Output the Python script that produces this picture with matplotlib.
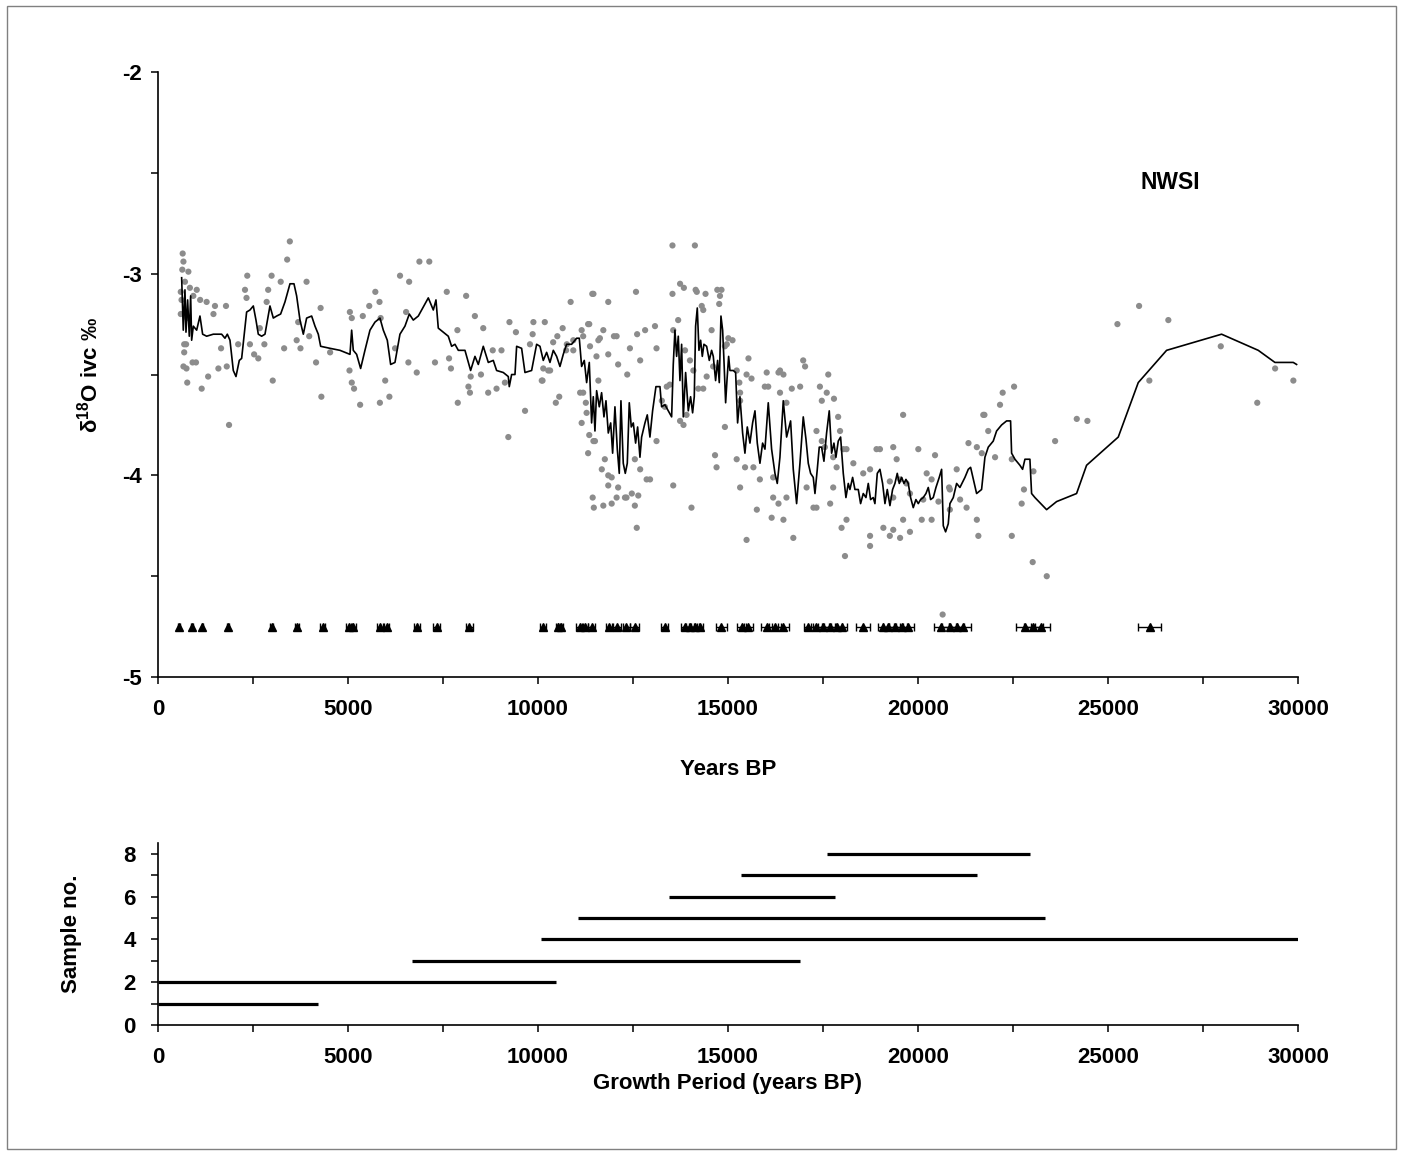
import numpy as np
import matplotlib.pyplot as plt
from matplotlib.ticker import MultipleLocator
from matplotlib.patches import Rectangle

plt.rcParams['font.family'] = ['Liberation Sans', 'DejaVu Sans']
plt.rcParams['font.weight'] = 'bold'
plt.rcParams['axes.labelweight'] = 'bold'
plt.rcParams['axes.unicode_minus'] = False
plt.rcParams['mathtext.fontset'] = 'custom'
plt.rcParams['mathtext.rm'] = 'Liberation Sans'
plt.rcParams['mathtext.bf'] = 'Liberation Sans:bold'

# smoothed d18O record (years BP, permil)
line_x = [623, 666, 710, 737, 780, 824, 860, 886, 930, 1018, 1105, 1175, 1281, 1456, 1544, 1675,
          1763, 1825, 1895, 1982, 2053, 2140, 2202, 2333, 2421, 2509, 2579, 2640, 2728, 2816, 2947,
          3035, 3123, 3228, 3342, 3474, 3579, 3649, 3737, 3825, 3912, 4044, 4132, 4219, 4281, 4526,
          4789, 5053, 5097, 5140, 5228, 5333, 5447, 5579, 5711, 5842, 5930, 6035, 6123, 6237, 6368,
          6500, 6614, 6719, 6851, 7114, 7246, 7316, 7377, 7509, 7640, 7728, 7816, 7904, 8079, 8228,
          8342, 8430, 8561, 8693, 8824, 8912, 9088, 9219, 9245, 9307, 9395, 9439, 9570, 9658, 9833,
          9965, 10053, 10140, 10228, 10316, 10404, 10491, 10579, 10666, 10754, 10886, 11018, 11088,
          11149, 11219, 11281, 11351, 11412, 11456, 11500, 11544, 11614, 11675, 11737, 11790, 11851,
          11914, 11965, 12026, 12088, 12140, 12184, 12245, 12298, 12351, 12403, 12456, 12509, 12570,
          12623, 12684, 12728, 12816, 12877, 12947, 13017, 13105, 13211, 13254, 13342, 13430, 13518,
          13561, 13605, 13649, 13693, 13737, 13781, 13825, 13886, 13956, 14017, 14070, 14114, 14149,
          14193, 14237, 14281, 14325, 14368, 14439, 14509, 14570, 14614, 14675, 14728, 14772, 14816,
          14860, 14895, 14939, 14974, 15018, 15053, 15140, 15202, 15254, 15316, 15386, 15447, 15509,
          15579, 15649, 15711, 15772, 15842, 15912, 15974, 16061, 16149, 16237, 16298, 16368, 16456,
          16544, 16649, 16719, 16807, 16895, 16982, 17053, 17114, 17175, 17245, 17290, 17351, 17403,
          17465, 17526, 17596, 17666, 17728, 17789, 17842, 17903, 17965, 18035, 18105, 18167, 18210,
          18281, 18342, 18430, 18491, 18561, 18632, 18693, 18754, 18824, 18868, 18930, 19000, 19070,
          19132, 19193, 19263, 19333, 19395, 19456, 19509, 19570, 19632, 19684, 19745, 19807, 19877,
          19947, 20009, 20070, 20140, 20211, 20272, 20333, 20403, 20474, 20561, 20623, 20667, 20728,
          20798, 20842, 20930, 21018, 21105, 21237, 21325, 21386, 21544, 21675, 21763, 21851, 21982,
          22070, 22202, 22333, 22438, 22465, 22553, 22684, 22754, 22816, 22947, 22991, 23079, 23386,
          23649, 24175, 24438, 25272, 25798, 26544, 27991, 28956, 29395, 29877, 29965]
line_y = [-3.02, -3.28, -3.08, -3.29, -3.13, -3.31, -3.11, -3.33, -3.26, -3.28, -3.21, -3.30, -3.31,
          -3.30, -3.30, -3.30, -3.32, -3.30, -3.33, -3.48, -3.51, -3.43, -3.42, -3.19, -3.18, -3.16,
          -3.23, -3.30, -3.31, -3.30, -3.16, -3.22, -3.21, -3.20, -3.14, -3.05, -3.05, -3.11, -3.23,
          -3.30, -3.22, -3.21, -3.26, -3.30, -3.36, -3.37, -3.38, -3.40, -3.28, -3.38, -3.40, -3.47,
          -3.38, -3.28, -3.24, -3.22, -3.28, -3.33, -3.45, -3.44, -3.30, -3.26, -3.20, -3.23, -3.21,
          -3.12, -3.18, -3.13, -3.27, -3.29, -3.31, -3.36, -3.35, -3.38, -3.38, -3.48, -3.41, -3.45,
          -3.36, -3.44, -3.43, -3.48, -3.49, -3.51, -3.56, -3.50, -3.50, -3.36, -3.37, -3.49, -3.48,
          -3.35, -3.36, -3.43, -3.39, -3.44, -3.38, -3.41, -3.46, -3.40, -3.35, -3.35, -3.32, -3.32,
          -3.46, -3.43, -3.54, -3.44, -3.74, -3.61, -3.78, -3.58, -3.66, -3.59, -3.71, -3.63, -3.79,
          -3.74, -3.89, -3.66, -3.87, -3.99, -3.63, -3.94, -3.99, -3.94, -3.64, -3.76, -3.74, -3.84,
          -3.76, -3.91, -3.81, -3.74, -3.70, -3.81, -3.68, -3.56, -3.56, -3.66, -3.65, -3.68, -3.71,
          -3.45, -3.28, -3.41, -3.31, -3.53, -3.35, -3.71, -3.49, -3.68, -3.61, -3.69, -3.61, -3.26,
          -3.17, -3.38, -3.33, -3.41, -3.35, -3.36, -3.43, -3.38, -3.41, -3.53, -3.43, -3.54, -3.21,
          -3.28, -3.43, -3.64, -3.53, -3.41, -3.48, -3.48, -3.49, -3.74, -3.61, -3.79, -3.89, -3.76,
          -3.84, -3.74, -3.68, -3.84, -3.94, -3.84, -3.87, -3.64, -3.87, -3.99, -4.04, -3.91, -3.63,
          -3.81, -3.73, -3.97, -4.14, -3.94, -3.71, -3.82, -3.94, -3.99, -4.01, -4.09, -3.97, -3.86,
          -3.86, -3.93, -3.79, -3.68, -3.89, -3.84, -3.91, -3.83, -3.81, -3.99, -4.11, -4.04, -4.07,
          -4.01, -4.07, -4.07, -4.14, -4.09, -4.11, -4.04, -4.12, -4.11, -4.14, -3.99, -3.97, -4.04,
          -4.14, -4.07, -4.15, -4.07, -4.04, -3.99, -4.04, -4.01, -4.04, -4.02, -4.04, -4.11, -4.16,
          -4.12, -4.14, -4.12, -4.11, -4.09, -4.06, -4.12, -4.11, -4.06, -4.01, -3.97, -4.25, -4.28,
          -4.24, -4.14, -4.11, -4.04, -4.06, -4.01, -3.97, -3.96, -4.09, -4.07, -3.91, -3.86, -3.83,
          -3.78, -3.75, -3.73, -3.73, -3.89, -3.92, -3.95, -3.97, -3.92, -3.92, -4.09, -4.11, -4.17,
          -4.13, -4.09, -3.95, -3.81, -3.54, -3.38, -3.30, -3.38, -3.44, -3.44, -3.45]

# individual measurements
pts_x = [650, 670, 640, 800, 710, 840, 1020, 600, 620, 930, 1110, 1280, 1500, 1790, 600, 1460, 770,
         690, 740, 690, 670, 750, 910, 1000, 770, 1320, 1150, 1590, 1660, 1810, 1870, 2110, 2350,
         2290, 2330, 2420, 2530, 2640, 2680, 2800, 2990, 2900, 2860, 3020, 3230, 3320, 3400, 3470,
         3650, 3690, 3750, 3910, 3980, 4160, 4280, 4300, 4530, 5050, 5100, 5390, 5040, 5100, 5160,
         5320, 5560, 5720, 5830, 5860, 5980, 5840, 6090, 6240, 6370, 6610, 6530, 6590, 6810, 6880,
         7140, 7290, 7600, 7660, 7710, 7880, 7890, 8110, 8170, 8210, 8230, 8340, 8560, 8500, 8690,
         8810, 8910, 9040, 9130, 9250, 9420, 9220, 9660, 9790, 9880, 9860, 10180, 10120, 10270,
         10470, 10560, 10510, 10650, 10860, 10740, 10930, 11150, 11320, 11460, 11590, 11190, 11260,
         11280, 11150, 11350, 11500, 11320,
         13540, 14130, 11430, 11850, 12580, 13540, 13740, 13840, 14150, 14180, 14410, 14720, 14830,
         14790, 14770, 14310, 14350, 11350, 10930, 11190, 11630, 11720, 12070, 12000, 12420, 12610,
         12820, 13080, 13120, 12690, 12350, 12110, 11850, 11540, 11370, 10760, 10400, 10140, 10320,
         10100, 11110, 11590, 11460, 11760, 11680, 11850, 11940, 12110, 11850, 12070, 12290, 12330,
         12470, 12640, 11440, 11470, 11720, 11940, 12550, 12600, 12690, 12860, 12950, 13120, 12550,
         13470, 13390, 13340, 13260, 13560, 14040, 13830, 13910, 13740, 13690, 13560, 13870, 14000,
         14090, 14220, 14350, 14440, 14610, 14920, 15010, 15120, 14970, 14570, 15540, 15490, 15620,
         15230, 15300, 15320, 15320, 14920, 14660, 14700, 15230, 15450, 15670, 15840, 16190, 15320,
         15760, 15490, 15970, 16060, 16370, 16540, 16680, 16900, 16370, 16330, 16460, 16980, 17030,
         16020, 17420, 17640, 17470, 17600, 17790, 17900, 17330, 17470, 17550, 17770, 17860, 17770,
         17690, 17950, 18040, 18120, 18300, 18560, 18740, 18910, 19000, 19350, 19610, 19440, 19260,
         19350, 19530, 19700, 19790, 20010, 20450, 20230, 20360, 20140, 20540, 20840, 21020, 21330,
         21550, 21720, 21850, 21550, 21590, 21280, 20840, 20360, 20100, 19610, 19350, 19260, 19530,
         19790, 19090, 18740, 18740, 18120, 17990, 18080, 17330, 17070, 16540, 16330, 16150, 16190,
         16720, 16460, 17250,
         21750, 22160, 22230, 22530, 22030, 22470, 22790, 22730, 23040, 22470, 23020, 23390, 23610,
         24180, 24460, 25250, 25820, 26590, 26090, 27970, 28930, 29400, 29880, 21680, 20820, 21110,
         20650]
pts_y = [-2.90, -2.94, -2.98, -2.99, -3.04, -3.07, -3.08, -3.09, -3.13, -3.11, -3.13, -3.14, -3.16,
         -3.16, -3.20, -3.20, -3.22, -3.35, -3.35, -3.39, -3.46, -3.47, -3.44, -3.44, -3.54, -3.51,
         -3.57, -3.47, -3.37, -3.46, -3.75, -3.35, -3.01, -3.08, -3.12, -3.35, -3.40, -3.42, -3.27,
         -3.35, -3.01, -3.08, -3.14, -3.53, -3.04, -3.37, -2.93, -2.84, -3.33, -3.24, -3.37, -3.04,
         -3.31, -3.44, -3.17, -3.61, -3.39, -3.19, -3.22, -3.21, -3.48, -3.54, -3.57, -3.65, -3.16,
         -3.09, -3.14, -3.22, -3.53, -3.64, -3.61, -3.37, -3.01, -3.04, -3.19, -3.44, -3.49, -2.94,
         -2.94, -3.44, -3.09, -3.42, -3.47, -3.28, -3.64, -3.11, -3.56, -3.59, -3.51, -3.21, -3.27,
         -3.50, -3.59, -3.38, -3.57, -3.38, -3.54, -3.24, -3.29, -3.81, -3.68, -3.35, -3.24, -3.30,
         -3.24, -3.53, -3.48, -3.64, -3.61, -3.31, -3.27, -3.14, -3.38, -3.38, -3.28, -3.25, -3.10,
         -3.33, -3.59, -3.64, -3.69, -3.74, -3.80, -3.83, -3.89,
         -2.86, -2.86, -3.10, -3.14, -3.09, -3.10, -3.05, -3.07, -3.08, -3.09, -3.10, -3.08, -3.08,
         -3.11, -3.15, -3.16, -3.18, -3.25, -3.33, -3.31, -3.32, -3.28, -3.31, -3.31, -3.37, -3.30,
         -3.28, -3.26, -3.37, -3.43, -3.50, -3.45, -3.40, -3.41, -3.36, -3.35, -3.34, -3.47, -3.48,
         -3.53, -3.59, -3.53, -3.83, -3.92, -3.97, -4.00, -4.01, -4.06, -4.05, -4.11, -4.11, -4.11,
         -4.09, -4.10, -4.11, -4.16, -4.15, -4.14, -4.15, -4.26, -3.97, -4.02, -4.02, -3.83, -3.92,
         -3.55, -3.56, -3.66, -3.63, -4.05, -4.16, -3.75, -3.70, -3.73, -3.23, -3.28, -3.38, -3.43,
         -3.48, -3.57, -3.57, -3.51, -3.46, -3.36, -3.32, -3.33, -3.35, -3.28, -3.42, -3.50, -3.52,
         -3.48, -3.54, -3.59, -3.63, -3.76, -3.90, -3.96, -3.92, -3.96, -3.96, -4.02, -4.01, -4.06,
         -4.17, -4.32, -3.56, -3.56, -3.59, -3.64, -3.57, -3.56, -3.48, -3.49, -3.50, -3.43, -3.46,
         -3.49, -3.56, -3.50, -3.63, -3.59, -3.62, -3.71, -3.78, -3.83, -3.86, -3.91, -3.96, -4.06,
         -4.14, -3.78, -3.87, -3.87, -3.94, -3.99, -3.97, -3.87, -3.87, -3.86, -3.70, -3.92, -4.03,
         -4.11, -4.02, -4.04, -4.09, -3.87, -3.90, -3.99, -4.02, -4.12, -4.13, -4.07, -3.97, -3.84,
         -3.86, -3.70, -3.78, -4.22, -4.30, -4.16, -4.17, -4.22, -4.22, -4.22, -4.27, -4.30, -4.31,
         -4.28, -4.26, -4.30, -4.35, -4.22, -4.26, -4.40, -4.16, -4.06, -4.11, -4.14, -4.21, -4.11,
         -4.31, -4.22, -4.16,
         -3.70, -3.65, -3.59, -3.56, -3.91, -3.92, -4.07, -4.14, -3.98, -4.30, -4.43, -4.50, -3.83,
         -3.72, -3.73, -3.25, -3.16, -3.23, -3.53, -3.36, -3.64, -3.47, -3.53, -3.89, -4.06, -4.12,
         -4.69]

# U-Th ages with 2-sigma errors
age_x = [560, 900, 1170, 1850, 2990, 3650, 4330, 5030, 5140, 5840, 6020, 6810, 7330, 8190,
         10140, 10530, 10600, 11100, 11240, 11410, 11880, 12070, 12330, 12550, 13340, 13870, 14000,
         14130, 14260, 14830, 15360, 15530, 16020, 16240, 16460, 17110, 17330, 17510, 17680, 17860,
         17990, 18560, 19090, 19220, 19390, 19570, 19750, 20620, 20840, 21020, 21190, 22820, 23030,
         23230, 26100]
age_err = [20, 20, 20, 30, 40, 50, 60, 70, 70, 70, 70, 80, 80, 90,
           80, 60, 60, 90, 90, 100, 100, 120, 100, 120, 90, 100, 100,
           100, 80, 150, 120, 120, 150, 150, 150, 120, 150, 150, 150, 150,
           150, 180, 150, 150, 150, 150, 150, 200, 200, 200, 200, 250, 250,
           250, 300]
age_level = -4.75

# growth periods of the samples
sample_no = [1, 2, 3, 4, 5, 6, 7, 8]
grow_start = [0, 0, 6680, 10080, 11050, 13450, 15340, 17600]
grow_end = [4210, 10470, 16890, 30000, 23340, 17815, 21550, 22950]

fig = plt.figure(figsize=(14.03, 11.54), dpi=100)
fig.patches.append(Rectangle((0.005, 0.004), 0.99, 0.991, transform=fig.transFigure,
                             fill=False, edgecolor='#808080', linewidth=1))

ax = fig.add_axes([0.1126, 0.4133, 0.8125, 0.5243])
ax.scatter(pts_x, pts_y, s=20, color='#8c8c8c', edgecolors='none', zorder=2)
ax.plot(line_x, line_y, color='black', linewidth=1.2, zorder=3)
ax.errorbar(age_x, [age_level] * len(age_x), xerr=age_err, fmt='^', color='black',
            markersize=5.5, elinewidth=1, capsize=3, capthick=1, zorder=4)
ax.text(26630, -2.55, 'NWSI', fontsize=16.5, ha='center', va='center')

ax.set_xlim(0, 30000)
ax.set_ylim(-5, -2)
ax.xaxis.set_major_locator(MultipleLocator(5000))
ax.xaxis.set_minor_locator(MultipleLocator(2500))
ax.yaxis.set_major_locator(MultipleLocator(1))
ax.yaxis.set_minor_locator(MultipleLocator(0.5))
ax.set_yticks([-5, -4, -3, -2])
ax.set_yticklabels(['-5', '-4', '-3', '-2'])
ax.set_xlabel('Years BP', fontsize=16)
ax.xaxis.set_label_coords(0.5, -0.136)
ax.set_ylabel(r'δ$^{18}$O ivc ‰', fontsize=16)
ax.yaxis.set_label_coords(-0.049, 0.5)
ax.tick_params(axis='y', pad=6.5)

ax2 = fig.add_axes([0.1126, 0.1118, 0.8125, 0.1577])
ax2.hlines(sample_no, grow_start, grow_end, color='black', linewidth=2.3)
ax2.set_xlim(0, 30000)
ax2.set_ylim(0, 8.5)
ax2.xaxis.set_major_locator(MultipleLocator(5000))
ax2.xaxis.set_minor_locator(MultipleLocator(2500))
ax2.yaxis.set_major_locator(MultipleLocator(2))
ax2.yaxis.set_minor_locator(MultipleLocator(1))
ax2.set_xlabel('Growth Period (years BP)', fontsize=16)
ax2.xaxis.set_label_coords(0.5, -0.262)
ax2.set_ylabel('Sample no.', fontsize=16)
ax2.yaxis.set_label_coords(-0.067, 0.5)
ax2.tick_params(axis='y', pad=11)

for a in (ax, ax2):
    a.spines['top'].set_visible(False)
    a.spines['right'].set_visible(False)
    a.spines['left'].set_linewidth(1.2)
    a.spines['bottom'].set_linewidth(1.2)
    a.tick_params(which='both', direction='out', length=5, width=1.1, labelsize=16)
    a.tick_params(axis='x', pad=11)

fig.savefig('out.png', dpi=100)
